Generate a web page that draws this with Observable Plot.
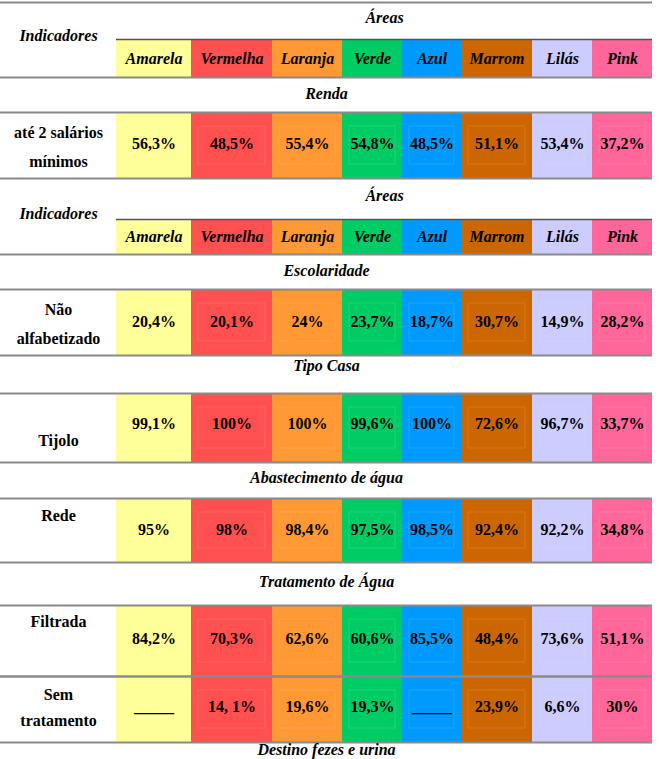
<!DOCTYPE html>
<html><head><meta charset="utf-8">
<script src="https://cdn.jsdelivr.net/npm/d3@7"></script>
<script src="https://cdn.jsdelivr.net/npm/@observablehq/plot@0.6"></script>
<style>
html,body{margin:0;padding:0;background:#fff}
svg{display:block}
#chart svg, #chart svg g, #chart svg text { font-family: "Liberation Serif", "Times New Roman", Times, serif !important; }
</style>
</head><body><div id="chart"></div>
<script>
// ---- data ----
const areas = ["Amarela","Vermelha","Laranja","Verde","Azul","Marrom","Lilás","Pink"];
const areaColors = ["#FFFF99","#FF5050","#FF9933","#00CC66","#0099FF","#CC6600","#CCCCFF","#FF6699"];
const areasTitle = "Áreas";
const indicatorsTitle = "Indicadores";
const sectionTitles = ["Renda","Escolaridade","Tipo Casa","Abastecimento de água","Tratamento de Água","Destino fezes e urina"];
const indicatorLabels = ["até 2 salários\nmínimos","Não\nalfabetizado","Tijolo","Rede","Filtrada","Sem\ntratamento"];
const rendaValues = ["56,3%","48,5%","55,4%","54,8%","48,5%","51,1%","53,4%","37,2%"];
const escolaridadeValues = ["20,4%","20,1%","24%","23,7%","18,7%","30,7%","14,9%","28,2%"];
const tijoloValues = ["99,1%","100%","100%","99,6%","100%","72,6%","96,7%","33,7%"];
const redeValues = ["95%","98%","98,4%","97,5%","98,5%","92,4%","92,2%","34,8%"];
const filtradaValues = ["84,2%","70,3%","62,6%","60,6%","85,5%","48,4%","73,6%","51,1%"];
const semTratamentoValues = ["_____","14, 1%","19,6%","19,3%","_____","23,9%","6,6%","30%"];
const rowValues = [rendaValues, escolaridadeValues, tijoloValues, redeValues, filtradaValues, semTratamentoValues];

// ---- layout (positions in chart units) ----
const W = 659, H = 759;
const colEdges = [0,116,191,272,342,402,461,532,592,652];
const headers = [{top:39, bottom:77, areasY:17, indY:35},
                 {top:219, bottom:254, areasY:195, indY:213}];
const rows = [
  {top:112, bottom:178, labelY:143, valueY:143, lh:1.8},
  {top:289, bottom:355, labelY:320, valueY:321, lh:1.8},
  {top:393, bottom:462, labelY:440, valueY:423, lh:1},
  {top:498, bottom:562, labelY:515, valueY:529, lh:1},
  {top:605, bottom:676, labelY:621, valueY:638, lh:1},
  {top:676, bottom:742, labelY:704, valueY:706, lh:1.65}
];
const sectionY = [93, 270, 365, 477, 581, 749];
const labelX = (colEdges[0] + colEdges[1]) / 2;
const areasX = (colEdges[1] + colEdges[colEdges.length-1]) / 2;
const tableX2 = colEdges[colEdges.length-1];
const font = "Liberation Serif, Times New Roman, serif";

// ---- derived tables ----
const cells = [];
headers.forEach(h => areas.forEach((a, j) => cells.push({area:a, x1:colEdges[j+1], x2:colEdges[j+2], y1:h.top, y2:h.bottom})));
rows.forEach(r => areas.forEach((a, j) => cells.push({area:a, x1:colEdges[j+1], x2:colEdges[j+2], y1:r.top, y2:r.bottom})));
const innerBoxes = [];
rows.forEach(r => areas.forEach((a, j) => { if (j > 0) innerBoxes.push({x1:colEdges[j+1]+7, x2:colEdges[j+2]-7, y1:r.top+14, y2:r.bottom-14}); }));

const areaLabels = [];
headers.forEach(h => areas.forEach((a, j) => areaLabels.push({text:a, x:(colEdges[j+1]+colEdges[j+2])/2, y:(h.top+h.bottom)/2})));

const valueLabels = [];
rows.forEach((r, i) => rowValues[i].forEach((v, j) => valueLabels.push({text:v, x:(colEdges[j+1]+colEdges[j+2])/2, y:r.valueY})));

const titleLabels = [];
headers.forEach(h => { titleLabels.push({text:areasTitle, x:areasX, y:h.areasY}); titleLabels.push({text:indicatorsTitle, x:labelX, y:h.indY}); });
sectionTitles.forEach((s, i) => titleLabels.push({text:s, x:(colEdges[0]+tableX2)/2, y:sectionY[i]}));

const greyRules = [{y:2}];
headers.forEach(h => greyRules.push({y:h.bottom}));
rows.forEach(r => { greyRules.push({y:r.top}); greyRules.push({y:r.bottom}); });
const darkRules = headers.map(h => ({y:h.top}));

const txt = {fontFamily: font, fontSize: 16, fontWeight: "bold", fill: "#000"};

const chart = Plot.plot({
  width: W, height: H,
  margin: 0,
  x: {domain:[0, W], range:[0, W], axis:null},
  y: {domain:[0, H], range:[0, H], axis:null},
  color: {domain: areas, range: areaColors},
  style: {fontFamily: font, background: "#fff"},
  marks: [
    Plot.rect(cells, {x1:"x1", x2:"x2", y1:"y1", y2:"y2", fill:"area"}),
    Plot.rect(innerBoxes, {x1:"x1", x2:"x2", y1:"y1", y2:"y2", fill:"none", stroke:"#fff", strokeOpacity:0.12}),
    Plot.ruleY(greyRules, {y:"y", x1:colEdges[0], x2:tableX2, stroke:"#8a8a8a", strokeWidth:2}),
    Plot.ruleY(darkRules, {y:"y", x1:colEdges[1], x2:tableX2, stroke:"#555", strokeWidth:1.5}),
    Plot.text(titleLabels, {x:"x", y:"y", text:"text", fontStyle:"italic", ...txt}),
    Plot.text(areaLabels, {x:"x", y:"y", text:"text", fontStyle:"italic", ...txt}),
    ...rows.map((r, i) => Plot.text([indicatorLabels[i]], {x:labelX, y:r.labelY, text:d => d, lineHeight:r.lh, ...txt})),
    Plot.text(valueLabels, {x:"x", y:"y", text:"text", ...txt})
  ]
});
document.getElementById("chart").appendChild(chart);
</script>
</body></html>
